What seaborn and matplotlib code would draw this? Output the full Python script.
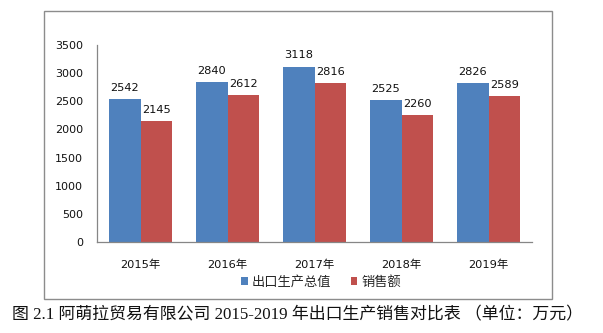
import matplotlib
matplotlib.use("Agg")
import matplotlib.pyplot as plt
from matplotlib.patches import Rectangle
import pandas as pd
import seaborn as sns

years = ["2015年", "2016年", "2017年", "2018年", "2019年"]
export_output = [2542, 2840, 3118, 2525, 2826]
sales = [2145, 2612, 2816, 2260, 2589]
series_names = ["出口生产总值", "销售额"]
y_ticks = [0, 500, 1000, 1500, 2000, 2500, 3000, 3500]
caption = "图 2.1 阿萌拉贸易有限公司 2015-2019 年出口生产销售对比表 （单位：万元）"

BLUE = "#4F81BD"
RED = "#C0504D"
AXIS_GRAY = "#868686"

sns.set_style("white")
plt.rcParams["font.family"] = ["DejaVu Sans", "Noto Sans CJK SC"]

df = pd.DataFrame({
    "year": years * 2,
    "value": export_output + sales,
    "series": [series_names[0]] * len(years) + [series_names[1]] * len(years),
})

fig = plt.figure(figsize=(6.03, 3.33), dpi=100)
ax = fig.add_axes([97 / 603, 1 - 242 / 333, (532 - 97) / 603, (242 - 45) / 333])

sns.barplot(data=df, x="year", y="value", hue="series", order=years,
            hue_order=series_names, palette=[BLUE, RED], saturation=1,
            width=0.735, dodge=True, gap=0, errorbar=None, ax=ax,
            edgecolor="none", linewidth=0)

for cont in ax.containers:
    ax.bar_label(cont, labels=[f"{v:.0f}" for v in cont.datavalues],
                 padding=4.5, fontsize=8.2, color="#111111")

ax.set_ylim(0, 3500)
ax.set_xlim(-0.5, len(years) - 0.5)
ax.set_yticks(y_ticks)
ax.set_yticklabels([str(t) for t in y_ticks], fontsize=8, color="#111111")
ax.tick_params(axis="y", length=0, pad=10)
ax.tick_params(axis="x", length=0, pad=13, labelsize=8.2, labelcolor="#111111")
ax.set_xlabel("")
ax.set_ylabel("")
for side in ("top", "right"):
    ax.spines[side].set_visible(False)
for side in ("left", "bottom"):
    ax.spines[side].set_color(AXIS_GRAY)
    ax.spines[side].set_linewidth(0.9)

handles, labels = ax.get_legend_handles_labels()
ax.legend_.remove()
fig.legend(handles, labels, loc="center", bbox_to_anchor=(321 / 603, 1 - 282 / 333),
           ncol=2, frameon=False, handlelength=0.5, handleheight=0.5,
           handletextpad=0.3, columnspacing=1.5, borderpad=0,
           prop={"family": ["Noto Sans CJK SC"], "size": 9.5})

# chart frame
fig.patches.append(Rectangle((44 / 603, 1 - 299 / 333), (552 - 44) / 603, (299 - 11) / 333,
                             transform=fig.transFigure, fill=False,
                             edgecolor="#8c8c8c", linewidth=1.0))

fig.text(12 / 603, 1 - 315 / 333, caption, ha="left", va="center", fontsize=12.2,
         family=["Liberation Serif", "Noto Sans CJK SC"], color="#111111")

fig.savefig("out.png", dpi=100, facecolor="white")
